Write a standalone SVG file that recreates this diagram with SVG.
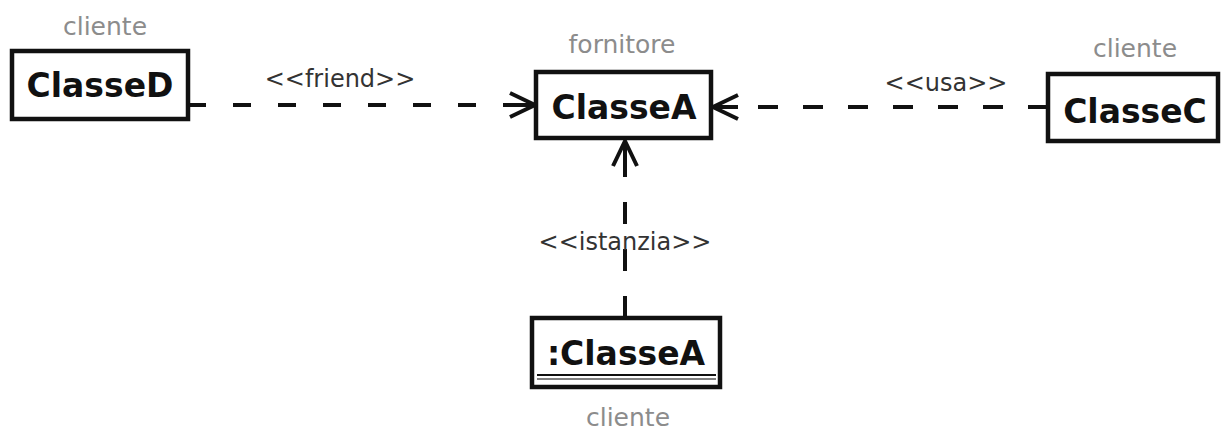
<svg xmlns="http://www.w3.org/2000/svg" width="1223" height="430" viewBox="0 0 1223 430">
<style>
.box{fill:#fff;stroke:#111;stroke-width:4.5}
.name{font-family:"DejaVu Sans",sans-serif;font-weight:bold;font-size:33px;fill:#111;text-anchor:middle}
.role{font-family:"DejaVu Sans",sans-serif;font-size:25px;fill:#8c8c8c;text-anchor:middle}
.stereo{font-family:"DejaVu Sans",sans-serif;font-size:24px;fill:#333;text-anchor:middle}
.dep{fill:none;stroke:#111;stroke-width:4}
</style>
<defs>
<marker id="open" markerUnits="userSpaceOnUse" viewBox="-30 -15 32 30" refX="0" refY="0" markerWidth="32" markerHeight="30" orient="auto" overflow="visible">
<path d="M-25,-12 L0,0 L-25,12 M-25,0 L0,0" fill="none" stroke="#111" stroke-width="4" stroke-dasharray="none"/>
</marker>
</defs>
<rect width="1223" height="430" fill="#fff"/>
<g id="connectors">
<path class="dep" d="M188,105 H535" stroke-dasharray="18 27" marker-end="url(#open)"/>
<path class="dep" d="M1048,107 H713" stroke-dasharray="20 25" marker-end="url(#open)"/>
<path class="dep" d="M625,318 V141" stroke-dasharray="22 25" marker-end="url(#open)"/>
<text class="stereo" x="340" y="87">&lt;&lt;friend&gt;&gt;</text>
<text class="stereo" x="946" y="91">&lt;&lt;usa&gt;&gt;</text>
<text class="stereo" x="625" y="250">&lt;&lt;istanzia&gt;&gt;</text>
</g>
<g id="ClasseD">
<text class="role" x="105" y="35">cliente</text>
<rect class="box" x="12" y="51" width="176" height="68"/>
<text class="name" x="100" y="97">ClasseD</text>
</g>
<g id="ClasseA">
<text class="role" x="622" y="53">fornitore</text>
<rect class="box" x="536" y="72" width="175" height="66"/>
<text class="name" x="624" y="119">ClasseA</text>
</g>
<g id="ClasseC">
<text class="role" x="1135" y="57">cliente</text>
<rect class="box" x="1048" y="74" width="170" height="67"/>
<text class="name" x="1135" y="123">ClasseC</text>
</g>
<g id="istanzaClasseA">
<rect class="box" x="532" y="318" width="188" height="69"/>
<text class="name" x="626" y="365">:ClasseA</text>
<line x1="537" y1="375" x2="716" y2="375" stroke="#111" stroke-width="2"/>
<line x1="537" y1="379" x2="716" y2="379" stroke="#555" stroke-width="1.5"/>
<text class="role" x="628" y="426">cliente</text>
</g>
</svg>
